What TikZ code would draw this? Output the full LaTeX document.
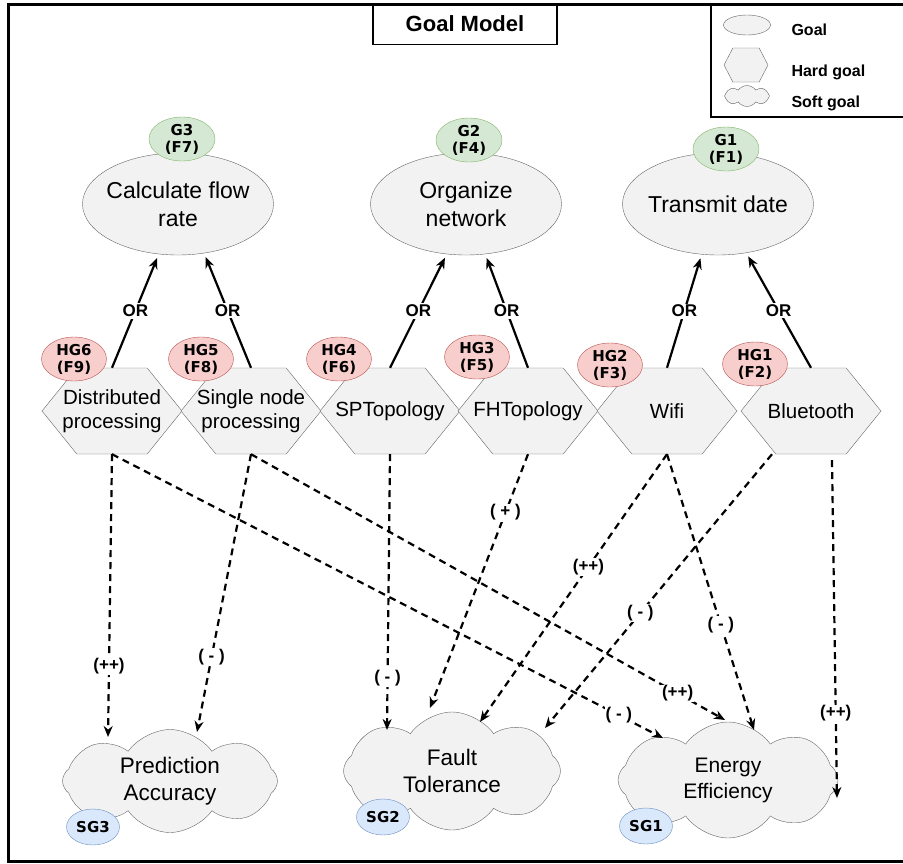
\documentclass[tikz,border=0pt]{standalone}
\usepackage{fontspec}
\setmainfont{Liberation Sans}
\newfontfamily\tagfont{DejaVu Sans}
\usetikzlibrary{shapes.geometric, shapes.symbols, arrows.meta, positioning, calc}

\definecolor{goalfill}{HTML}{F2F2F2}
\definecolor{goalline}{HTML}{666666}
\definecolor{greenfill}{HTML}{D5E8D4}
\definecolor{greenline}{HTML}{82B366}
\definecolor{redfill}{HTML}{F8CECC}
\definecolor{redline}{HTML}{B85450}
\definecolor{bluefill}{HTML}{DAE8FC}
\definecolor{blueline}{HTML}{6C8EBF}

\tikzset{
  goal/.style={ellipse, draw=goalline, fill=goalfill, inner xsep=-25pt, inner ysep=-10pt,
    minimum width=191pt, minimum height=102pt, align=center,
    font=\fontsize{23}{28}\selectfont},
  hard/.style={signal, signal to=west and east, signal pointer angle=102,
    draw=goalline, fill=goalfill, inner xsep=-30pt, inner ysep=0pt,
    minimum width=140pt, minimum height=86pt, align=center,
    font=\fontsize{20.5}{23.5}\selectfont},
  soft/.style={cloud, cloud puffs=8, cloud puff arc=110, aspect=2,
    draw=goalline, fill=goalfill, inner sep=0pt, align=center,
    font=\fontsize{22.5}{27}\selectfont},
  tag/.style={ellipse, inner sep=0pt, align=center,
    font=\tagfont\bfseries\fontsize{15}{17}\selectfont},
  gtag/.style={tag, draw=greenline, fill=greenfill, minimum width=66pt, minimum height=44pt},
  rtag/.style={tag, draw=redline, fill=redfill, minimum width=65pt, minimum height=44pt},
  btag/.style={tag, draw=blueline, fill=bluefill, minimum width=53pt, minimum height=36pt},
  orarrow/.style={-{Stealth[length=11pt,width=9pt]}, line width=2.2pt, shorten >=4pt},
  orlbl/.style={fill=white, inner sep=1.5pt, font=\bfseries\fontsize{17}{19}\selectfont},
  contrib/.style={-{Stealth[length=11pt,width=9pt]}, line width=2.2pt,
    dash pattern=on 7pt off 5pt},
  clbl/.style={fill=white, inner sep=1pt, font=\bfseries\fontsize{17}{19}\selectfont},
  legtext/.style={anchor=base west, font=\bfseries\fontsize{16}{18}\selectfont}
}

\begin{document}
\begin{tikzpicture}[x=1pt,y=-1pt]
\useasboundingbox (0,0) rectangle (903,863);
\draw[line width=3pt] (8,4) rectangle (912,861);

% title and legend
\node[draw, line width=1.5pt, minimum width=184pt, minimum height=41pt,
  font=\bfseries\fontsize{22}{26}\selectfont] (title) at (465,24) {Goal Model};
\draw[line width=2.5pt] (711,4) rectangle (912,117);
\node[goal, minimum width=47pt, minimum height=20pt] (lgoal) at (747,25) {};
\node[hard, minimum width=44pt, minimum height=34pt, signal pointer angle=125] (lhard) at (746,65) {};
\node[soft, minimum width=45pt, minimum height=21pt] (lsoft) at (747,96) {};
\node[legtext] at (788,35) {Goal};
\node[legtext] at (788,76) {Hard goal};
\node[legtext] at (788,107) {Soft goal};

% goals
\node[goal] (fr) at (178,204) {Calculate flow\\rate};
\node[goal] (on) at (466,204) {Organize\\network};
\node[goal] (td) at (718,204) {Transmit date};
\node[gtag] (g3) at (182,139) {G3\\(F7)};
\node[gtag] (g2) at (469,140) {G2\\(F4)};
\node[gtag] (g1) at (726,149) {G1\\(F1)};

% hard goals
\node[hard] (dp) at (112,411) {Distributed\\processing};
\node[hard] (snp) at (251,411) {Single node\\processing};
\node[hard] (spt) at (390,411) {SPTopology};
\node[hard] (fht) at (528,411) {FHTopology};
\node[hard] (wifi) at (667,411) {Wifi};
\node[hard] (bt) at (811,411) {Bluetooth};
\node[rtag] (hg6) at (74,359) {HG6\\(F9)};
\node[rtag] (hg5) at (201,359) {HG5\\(F8)};
\node[rtag] (hg4) at (339,359) {HG4\\(F6)};
\node[rtag] (hg3) at (477,357) {HG3\\(F5)};
\node[rtag] (hg2) at (610,365) {HG2\\(F3)};
\node[rtag] (hg1) at (755,364) {HG1\\(F2)};

% soft goals
\node[soft, minimum width=215pt, minimum height=103pt] (pa) at (170,781) {Prediction\\Accuracy};
\node[soft, minimum width=217pt, minimum height=118pt] (ft) at (452,771) {Fault\\Tolerance};
\node[soft, minimum width=220pt, minimum height=116pt,
  font=\fontsize{21}{26}\selectfont] (ee) at (728,780) {Energy\\Efficiency};
\node[btag] (sg3) at (93,827) {SG3};
\node[btag] (sg2) at (383,817) {SG2};
\node[btag] (sg1) at (646,826) {SG1};

% OR decomposition
\draw[orarrow] (dp.north) -- node[orlbl]{OR} (fr.249);
\draw[orarrow] (snp.north) -- node[orlbl]{OR} (fr.298);
\draw[orarrow] (spt.north) -- node[orlbl]{OR} (on.249);
\draw[orarrow] (fht.north) -- node[orlbl]{OR} (on.291);
\draw[orarrow] (wifi.north) -- node[orlbl]{OR} (td.252);
\draw[orarrow] (bt.north) -- node[orlbl]{OR} (td.300);

% contributions
\draw[contrib] (dp.south) -- node[pos=0.75,clbl]{(++)} ([shift={(-62,-44)}]pa.center);
\draw[contrib] (dp.south) -- node[pos=0.92,clbl]{( - )} ([shift={(-65,-42)}]ee.center);
\draw[contrib] (snp.south) -- node[pos=0.73,clbl]{( - )} ([shift={(27,-49)}]pa.center);
\draw[contrib] (snp.south) -- node[pos=0.90,clbl]{(++)} ([shift={(-3,-60)}]ee.center);
\draw[contrib] (spt.south) -- node[pos=0.81,clbl]{( - )} ([shift={(-65,-41)}]ft.center);
\draw[contrib] (fht.south) -- node[pos=0.23,clbl]{( + )} ([shift={(-22,-63)}]ft.center);
\draw[contrib] (wifi.south) -- node[pos=0.42,clbl]{(++)} ([shift={(28,-49)}]ft.center);
\draw[contrib] (wifi.south) -- node[pos=0.62,clbl]{( - )} ([shift={(26,-50)}]ee.center);
\draw[contrib] ([xshift=-39pt]bt.south) -- node[pos=0.58,clbl]{( - )} ([shift={(93,-43)}]ft.center);
\draw[contrib] ([xshift=21pt,yshift=-6pt]bt.south) -- node[pos=0.75,clbl]{(++)} ([shift={(109,18)}]ee.center);
\end{tikzpicture}
\end{document}
